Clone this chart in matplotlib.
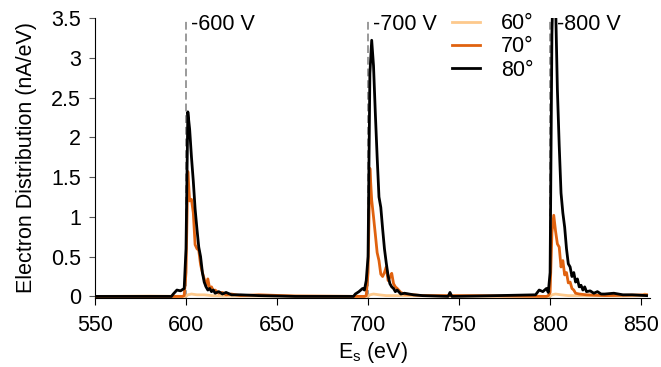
#! /usr/bin/env python
#
# Electron energy distribution for three bias voltages
#

import numpy as np
import matplotlib.pyplot as plt

plt.rcParams['font.family'] = ['Liberation Sans', 'DejaVu Sans']
plt.rcParams['mathtext.fontset'] = 'custom'
plt.rcParams['mathtext.rm'] = 'Liberation Sans'
plt.rcParams['font.size'] = 15.5

# data
e_60 = [550, 580, 600, 601, 603, 606, 610, 614, 620, 650, 700, 701, 703, 706, 710, 716,
        750, 800, 801, 803, 806, 810, 815, 840, 851, 852, 853]
d_60 = [0, 0.005, 0, 0.02, 0.03, 0.02, 0.02, 0.01, 0.005, 0.005, 0, 0.02, 0.03, 0.02, 0.01, 0.01,
        0.005, 0, 0.02, 0.03, 0.02, 0.01, 0.01, 0.005, 0.01, 0.03, 0.02]

e_70 = [550, 598, 599, 600, 601, 602, 603, 604, 605, 606, 607, 608, 609, 610, 611, 612, 613,
        614, 615, 616, 618, 620, 622, 625, 630, 640, 660, 698, 699, 700, 701, 702, 703, 704,
        705, 706, 707, 708, 709, 710, 711, 712, 713, 714, 715, 716, 718, 720, 725, 730, 760,
        798, 799, 800, 801, 802, 803, 804, 805, 806, 807, 808, 809, 810, 811, 812, 813, 814,
        816, 820, 830, 853]
d_70 = [0, 0, 0.01, 0.3, 1.57, 1.2, 1.22, 1.05, 0.65, 0.6, 0.58, 0.4, 0.3, 0.22, 0.13, 0.22, 0.1,
        0.12, 0.07, 0.08, 0.04, 0.05, 0.02, 0.03, 0.01, 0.02, 0.005, 0, 0.01, 0.3, 1.61, 1.21, 1.0, 0.78,
        0.55, 0.45, 0.28, 0.25, 0.3, 0.37, 0.2, 0.24, 0.29, 0.16, 0.12, 0.1, 0.05, 0.03, 0.02, 0.01, 0.01,
        0, 0.01, 0.05, 0.8, 1.02, 0.82, 0.66, 0.62, 0.37, 0.45, 0.27, 0.3, 0.17, 0.18, 0.1, 0.08, 0.04,
        0.03, 0.02, 0.01, 0.02]

e_80 = [550, 592, 593, 595, 597, 599, 600, 601, 602, 603, 604, 605, 606, 607, 608, 609, 610,
        611, 612, 613, 614, 615, 616, 618, 620, 622, 625, 630, 640, 660, 692, 693, 695, 697,
        698, 699, 700, 701, 702, 703, 704, 705, 706, 707, 708, 709, 710, 711, 712, 713, 714,
        715, 716, 718, 720, 725, 730, 744, 745, 746, 760, 792, 794, 796, 798, 799, 800, 801,
        802, 803, 804, 805, 806, 807, 808, 809, 810, 811, 812, 813, 814, 815, 816, 817, 818,
        819, 820, 822, 824, 826, 828, 830, 835, 840, 845, 853]
d_80 = [0, 0, 0.03, 0.08, 0.07, 0.1, 0.6, 2.32, 2.1, 1.75, 1.45, 1.1, 0.85, 0.62, 0.5, 0.3, 0.18,
        0.12, 0.08, 0.1, 0.06, 0.08, 0.04, 0.06, 0.03, 0.05, 0.02, 0.02, 0.01, 0, 0, 0.03, 0.06, 0.1,
        0.08, 0.2, 0.5, 2.8, 3.22, 2.9, 2.3, 1.75, 1.25, 1.12, 0.85, 0.6, 0.42, 0.26, 0.16, 0.12, 0.1,
        0.06, 0.08, 0.03, 0.04, 0.02, 0.01, 0, 0.05, 0, 0.005, 0.02, 0.08, 0.06, 0.1, 0.05, 0.3, 3.3,
        4.3, 3.7, 2.6, 1.9, 1.3, 1.05, 0.87, 0.6, 0.41, 0.37, 0.25, 0.3, 0.18, 0.22, 0.12, 0.14, 0.08,
        0.12, 0.06, 0.07, 0.04, 0.06, 0.03, 0.03, 0.04, 0.02, 0.02, 0.01]

voltages = [600, 700, 800]
volt_labels = ['-600 V', '-700 V', '-800 V']
ytick_vals = [0, 0.5, 1, 1.5, 2, 2.5, 3, 3.5]
ytick_labels = ['0', '0.5', '1', '1.5', '2', '2.5', '3', '3.5']
xtick_vals = [550, 600, 650, 700, 750, 800, 850]

fig = plt.figure(figsize=(6.61, 3.67), dpi=100)
ax = fig.add_axes([0.1437, 0.188, 0.84, 0.763])

# dashed markers at the bias voltages
for v, lab, dx in zip(voltages, volt_labels, [2.5, 2.5, 4]):
    ax.axvline(v, color='#9a9a9a', ls=(0, (4, 2)), lw=1.4, zorder=1)
    ax.text(v + dx, 3.42, lab, va='center', ha='left')

ax.plot(e_60, d_60, color='#fdc98c', lw=2, label='60°', zorder=2)
ax.plot(e_70, d_70, color='#e0620f', lw=2, label='70°', zorder=3)
ax.plot(e_80, d_80, color='black', lw=2, label='80°', zorder=4)

ax.set_xlim(550, 855)
ax.set_ylim(-0.02, 3.5)
ax.set_xticks(xtick_vals)
ax.set_yticks(ytick_vals)
ax.set_yticklabels(ytick_labels)

ax.spines['top'].set_visible(False)
ax.spines['right'].set_visible(False)
ax.tick_params(axis='x', direction='out', length=5, width=0.8, pad=7)
ax.tick_params(axis='y', direction='out', length=4, width=0.8, color='#555555', pad=6)

ax.set_xlabel('E$_\\mathrm{s}$ (eV)', labelpad=3)
ax.set_ylabel('Electron Distribution (nA/eV)', labelpad=10)

ax.legend(loc='upper left', bbox_to_anchor=(0.623, 1.055), frameon=False,
          handlelength=1.3, handletextpad=1.0, labelspacing=0.1, borderpad=0)

plt.savefig('out.png', dpi=100)
